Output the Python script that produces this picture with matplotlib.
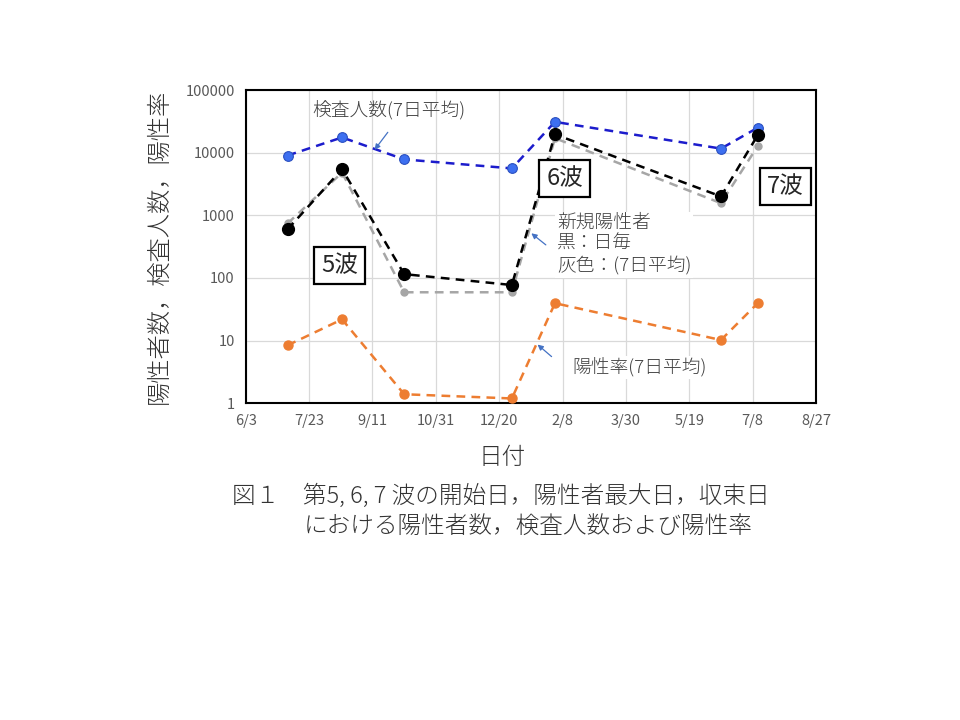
import matplotlib.pyplot as plt
import matplotlib.dates as mdates
from matplotlib.ticker import FixedLocator, FuncFormatter
import datetime as dt

plt.rcParams['font.family'] = ['Noto Sans CJK JP', 'DejaVu Sans']

# dates: start / peak / end of waves 5, 6, 7
dates = ["2021-07-06", "2021-08-18", "2021-10-06", "2021-12-30",
         "2022-02-02", "2022-06-13", "2022-07-12"]
tests_7d = [9000, 17500, 7800, 5600, 31000, 11600, 25000]
pos_daily = [595, 5450, 115, 77, 19600, 2000, 19000]
pos_7d = [740, 4800, 59, 59, 17000, 1560, 12700]
rate_7d = [8.4, 21.8, 1.39, 1.19, 39.5, 10.2, 39.5]

x = [dt.datetime.strptime(d, "%Y-%m-%d") for d in dates]
tick_start = dt.datetime(2021, 6, 3)
xticks = [tick_start + dt.timedelta(days=50 * i) for i in range(10)]

fig = plt.figure(figsize=(9.6, 7.2), dpi=100)
ax = fig.add_axes([0.256, 0.44, 0.594, 0.435])

dash = (0, (3.5, 2.5))
ax.plot(x, tests_7d, linestyle=dash, color='#1c1ccc', lw=1.8, marker='o', ms=7,
        mfc='#3d6ff0', mec='#2a4fc0', mew=0.8, zorder=3)
ax.plot(x, pos_7d, linestyle=dash, color='#a6a6a6', lw=1.8, marker='o', ms=5,
        mfc='#a6a6a6', mec='#a6a6a6', zorder=3)
ax.plot(x, pos_daily, linestyle=dash, color='black', lw=1.8, marker='o', ms=8.5,
        mfc='black', mec='black', zorder=4)
ax.plot(x, rate_7d, linestyle=dash, color='#ed7d31', lw=1.8, marker='o', ms=6.5,
        mfc='#ed7d31', mec='#ed7d31', zorder=3)

ax.set_yscale('log')
ax.set_ylim(1, 100000)
ax.set_yticks([1, 10, 100, 1000, 10000, 100000])
ax.yaxis.set_major_formatter(FuncFormatter(lambda v, p: f"{v:.0f}"))
ax.yaxis.set_minor_locator(FixedLocator([]))
ax.set_xlim(mdates.date2num(xticks[0]), mdates.date2num(xticks[-1]))
ax.set_xticks([mdates.date2num(t) for t in xticks])
ax.set_xticklabels([f"{t.month}/{t.day}" for t in xticks])
ax.grid(True, color='#d9d9d9', lw=0.9)
ax.set_axisbelow(True)
ax.tick_params(length=0, labelsize=10.5, colors='#595959', pad=8)
for s in ax.spines.values():
    s.set_linewidth(1.5)
    s.set_color('black')

ax.set_xlabel("日付", fontsize=17, color='#333333', va='top', fontweight='light')
ax.xaxis.set_label_coords(0.45, -0.135)
ax.set_ylabel("陽性者数，検査人数，陽性率", fontsize=17.5, color='#333333',
              labelpad=10, fontweight='light')

arrow = dict(arrowstyle='-|>', color='#4472c4', lw=0.9, mutation_scale=8)
txt = dict(fontsize=13.5, color='#404040', xycoords='axes fraction',
           textcoords='axes fraction', fontweight='light')

ax.annotate("検査人数(7日平均)", xy=(0.223, 0.80), xytext=(0.117, 0.936),
            va='center', ha='left', **txt)
ax.annotate("", xy=(0.223, 0.802), xytext=(0.252, 0.872),
            xycoords='axes fraction', textcoords='axes fraction', arrowprops=arrow)

ax.annotate("新規陽性者\n黒：日毎\n灰色：(7日平均)", xy=(0.5, 0.55), xytext=(0.546, 0.506),
            va='center', ha='left', linespacing=1.25,
            bbox=dict(boxstyle='square,pad=0.1', fc='white', ec='none'), **txt)
ax.annotate("", xy=(0.497, 0.548), xytext=(0.53, 0.5),
            xycoords='axes fraction', textcoords='axes fraction', arrowprops=arrow)

ax.annotate("陽性率(7日平均)", xy=(0.5, 0.2), xytext=(0.572, 0.115),
            va='center', ha='left',
            bbox=dict(boxstyle='square,pad=0.1', fc='white', ec='none'), **txt)
ax.annotate("", xy=(0.508, 0.193), xytext=(0.54, 0.143),
            xycoords='axes fraction', textcoords='axes fraction', arrowprops=arrow)

box = dict(boxstyle='square,pad=0.3', fc='white', ec='black', lw=1.6)
for label, bx, by in [("5波", 0.164, 0.439), ("6波", 0.559, 0.717), ("7波", 0.946, 0.693)]:
    ax.text(bx, by, label, transform=ax.transAxes, fontsize=17, color='#262626',
            ha='center', va='center', bbox=box, zorder=6)

fig.text(0.242, 0.31, "図１　第5, 6, 7 波の開始日，陽性者最大日，収束日",
         fontsize=17, color='#333333', va='center', fontweight='light')
fig.text(0.316, 0.268, "における陽性者数，検査人数および陽性率",
         fontsize=17, color='#333333', va='center', fontweight='light')

fig.savefig("out.png", dpi=100)
